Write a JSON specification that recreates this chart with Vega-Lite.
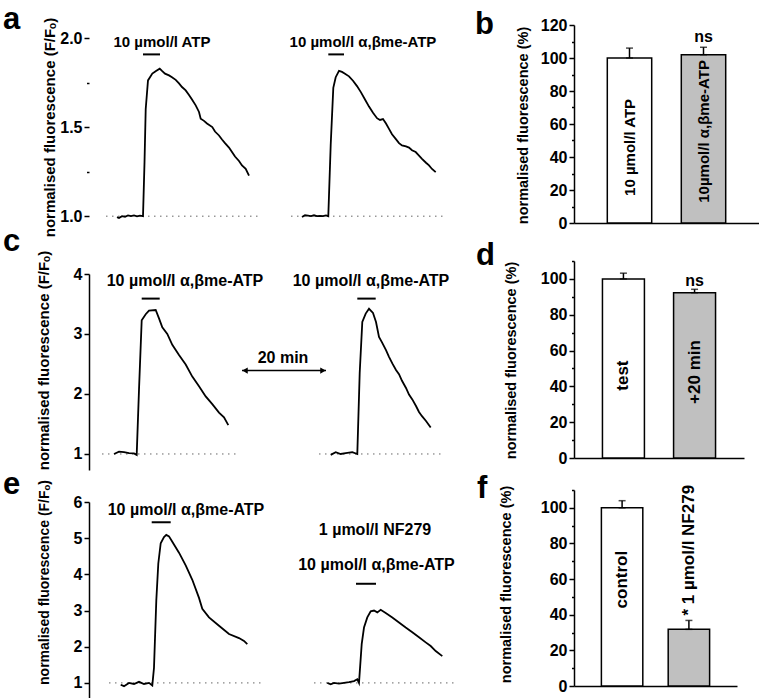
{
  "$schema": "https://vega.github.io/schema/vega-lite/v6.json",
  "padding": {"left": 3, "top": 3, "right": 0, "bottom": 0},
  "bounds": "flush",
  "spacing": 485,
  "config": {
    "view": {"stroke": null},
    "font": "Liberation Sans",
    "axis": {"domainColor": "black", "domainWidth": 1.5, "tickColor": "black", "tickWidth": 1.5, "tickSize": 5,
      "labelFont": "Liberation Sans", "labelFontSize": 16, "labelFontWeight": "bold", "labelColor": "black", "labelPadding": 2,
      "titleFont": "Liberation Sans", "titleFontSize": 15, "titleFontWeight": "bold", "titleColor": "black",
      "grid": false, "labelOverlap": false, "labelFlush": false},
    "text": {"font": "Liberation Sans", "fontWeight": "bold", "fontSize": 16, "color": "black"},
    "title": {"anchor": "start", "frame": "group", "align": "left", "fontSize": 31, "fontWeight": "bold", "font": "Liberation Sans", "color": "black", "offset": 0, "baseline": "alphabetic"}
  },
  "datasets": {
    "a_trace": [
      {"trace":1,"t":28,"v":0.995},{"trace":1,"t":30,"v":0.99},{"trace":1,"t":33,"v":1.0},{"trace":1,"t":36,"v":0.997},{"trace":1,"t":39,"v":1.004},{"trace":1,"t":42,"v":1.0},{"trace":1,"t":45,"v":1.004},{"trace":1,"t":48,"v":0.999},{"trace":1,"t":51,"v":1.003},{"trace":1,"t":54,"v":1.0},{"trace":1,"t":55.5,"v":1.3},{"trace":1,"t":56.7,"v":1.6},{"trace":1,"t":59,"v":1.762},{"trace":1,"t":63.3,"v":1.8},{"trace":1,"t":67,"v":1.815},{"trace":1,"t":70.7,"v":1.828},{"trace":1,"t":73,"v":1.815},{"trace":1,"t":76,"v":1.8},{"trace":1,"t":80,"v":1.79},{"trace":1,"t":83,"v":1.78},{"trace":1,"t":86.7,"v":1.765},{"trace":1,"t":90,"v":1.745},{"trace":1,"t":93,"v":1.725},{"trace":1,"t":96.7,"v":1.706},{"trace":1,"t":100,"v":1.68},{"trace":1,"t":103,"v":1.655},{"trace":1,"t":106.7,"v":1.622},{"trace":1,"t":110,"v":1.585},{"trace":1,"t":111.7,"v":1.547},{"trace":1,"t":115,"v":1.535},{"trace":1,"t":118,"v":1.52},{"trace":1,"t":123.3,"v":1.5},{"trace":1,"t":126,"v":1.475},{"trace":1,"t":130,"v":1.453},{"trace":1,"t":133,"v":1.43},{"trace":1,"t":136,"v":1.41},{"trace":1,"t":140,"v":1.385},{"trace":1,"t":143,"v":1.36},{"trace":1,"t":146,"v":1.335},{"trace":1,"t":150,"v":1.31},{"trace":1,"t":153,"v":1.285},{"trace":1,"t":156.7,"v":1.266},{"trace":1,"t":160,"v":1.228},
      {"trace":2,"t":213,"v":0.995},{"trace":2,"t":216,"v":1.005},{"trace":2,"t":219,"v":1.003},{"trace":2,"t":222,"v":1.0},{"trace":2,"t":225,"v":1.005},{"trace":2,"t":228,"v":1.0},{"trace":2,"t":231,"v":1.002},{"trace":2,"t":234,"v":1.0},{"trace":2,"t":237,"v":1.004},{"trace":2,"t":239.3,"v":1.0},{"trace":2,"t":241.7,"v":1.4},{"trace":2,"t":244.3,"v":1.72},{"trace":2,"t":246.7,"v":1.78},{"trace":2,"t":250,"v":1.816},{"trace":2,"t":253,"v":1.81},{"trace":2,"t":256,"v":1.8},{"trace":2,"t":260,"v":1.785},{"trace":2,"t":264,"v":1.76},{"trace":2,"t":268,"v":1.73},{"trace":2,"t":272,"v":1.695},{"trace":2,"t":276,"v":1.655},{"trace":2,"t":280,"v":1.615},{"trace":2,"t":284,"v":1.58},{"trace":2,"t":288,"v":1.55},{"trace":2,"t":291,"v":1.54},{"trace":2,"t":294,"v":1.545},{"trace":2,"t":297,"v":1.52},{"trace":2,"t":300,"v":1.49},{"trace":2,"t":303,"v":1.46},{"trace":2,"t":306.7,"v":1.434},{"trace":2,"t":310,"v":1.41},{"trace":2,"t":313,"v":1.397},{"trace":2,"t":317,"v":1.392},{"trace":2,"t":320,"v":1.385},{"trace":2,"t":323,"v":1.37},{"trace":2,"t":326.7,"v":1.36},{"trace":2,"t":330,"v":1.34},{"trace":2,"t":333,"v":1.322},{"trace":2,"t":337,"v":1.3},{"trace":2,"t":340,"v":1.285},{"trace":2,"t":343,"v":1.265},{"trace":2,"t":346.7,"v":1.247}
    ],
    "a_base": [{"t":17,"t2":170,"v":1},{"t":202,"t2":357,"v":1}],
    "a_stim": [{"t":54,"t2":71,"v":1.908},{"t":239.3,"t2":255,"v":1.908}],
    "a_text": [{"t":73,"v":1.978,"label":"10 µmol/l ATP"},{"t":274,"v":1.978,"label":"10 µmol/l α,βme-ATP"}],
    "c_trace": [
      {"trace":1,"t":25,"v":1.0},{"trace":1,"t":30,"v":1.04},{"trace":1,"t":35,"v":1.03},{"trace":1,"t":40,"v":1.015},{"trace":1,"t":45,"v":1.01},{"trace":1,"t":47.7,"v":0.985},{"trace":1,"t":50,"v":2.07},{"trace":1,"t":52.7,"v":3.23},{"trace":1,"t":56.7,"v":3.33},{"trace":1,"t":60,"v":3.39},{"trace":1,"t":66.7,"v":3.4},{"trace":1,"t":70,"v":3.26},{"trace":1,"t":73.3,"v":3.11},{"trace":1,"t":78.3,"v":3.0},{"trace":1,"t":83.3,"v":2.82},{"trace":1,"t":90,"v":2.65},{"trace":1,"t":96.7,"v":2.49},{"trace":1,"t":103.3,"v":2.29},{"trace":1,"t":110,"v":2.13},{"trace":1,"t":116.7,"v":1.96},{"trace":1,"t":123.3,"v":1.83},{"trace":1,"t":130,"v":1.69},{"trace":1,"t":135,"v":1.61},{"trace":1,"t":139.3,"v":1.48},
      {"trace":2,"t":241.7,"v":0.985},{"trace":2,"t":246.7,"v":1.03},{"trace":2,"t":251.7,"v":1.0},{"trace":2,"t":256.7,"v":1.015},{"trace":2,"t":263.3,"v":1.03},{"trace":2,"t":268.3,"v":1.0},{"trace":2,"t":270.7,"v":2.35},{"trace":2,"t":273.3,"v":3.2},{"trace":2,"t":276.7,"v":3.34},{"trace":2,"t":280,"v":3.42},{"trace":2,"t":284,"v":3.35},{"trace":2,"t":287,"v":3.2},{"trace":2,"t":290,"v":2.95},{"trace":2,"t":293,"v":2.86},{"trace":2,"t":297,"v":2.73},{"trace":2,"t":300,"v":2.62},{"trace":2,"t":303.3,"v":2.51},{"trace":2,"t":307,"v":2.4},{"trace":2,"t":310,"v":2.33},{"trace":2,"t":313,"v":2.22},{"trace":2,"t":317,"v":2.1},{"trace":2,"t":320,"v":1.99},{"trace":2,"t":323.3,"v":1.91},{"trace":2,"t":327,"v":1.8},{"trace":2,"t":330,"v":1.7},{"trace":2,"t":333,"v":1.63},{"trace":2,"t":337,"v":1.55},{"trace":2,"t":341.7,"v":1.44}
    ],
    "c_base": [{"t":13,"t2":150,"v":1},{"t":230,"t2":352,"v":1}],
    "c_stim": [{"t":52.7,"t2":70.7,"v":3.59},{"t":268.3,"t2":286.7,"v":3.59}],
    "c_arrow": [{"t":153,"t2":237,"v":2.39}],
    "c_heads": [{"t":156,"v":2.39,"dir":"left"},{"t":234,"v":2.39,"dir":"right"}],
    "c_text": [{"t":96,"v":3.89,"label":"10 µmol/l α,βme-ATP"},{"t":282,"v":3.89,"label":"10 µmol/l α,βme-ATP"},{"t":194,"v":2.6,"label":"20 min"}],
    "e_trace": [
      {"trace":1,"t":31.7,"v":0.95},{"trace":1,"t":35,"v":0.91},{"trace":1,"t":40,"v":1.0},{"trace":1,"t":45,"v":0.97},{"trace":1,"t":50,"v":1.03},{"trace":1,"t":55,"v":0.97},{"trace":1,"t":60,"v":1.0},{"trace":1,"t":63.3,"v":0.93},{"trace":1,"t":65,"v":1.42},{"trace":1,"t":67.3,"v":3.28},{"trace":1,"t":69.3,"v":4.3},{"trace":1,"t":71.7,"v":4.86},{"trace":1,"t":75,"v":5.03},{"trace":1,"t":77.3,"v":5.09},{"trace":1,"t":80,"v":5.05},{"trace":1,"t":83.3,"v":4.9},{"trace":1,"t":90,"v":4.6},{"trace":1,"t":96.7,"v":4.25},{"trace":1,"t":103.3,"v":3.85},{"trace":1,"t":110,"v":3.35},{"trace":1,"t":113.3,"v":3.05},{"trace":1,"t":120,"v":2.81},{"trace":1,"t":130,"v":2.58},{"trace":1,"t":140,"v":2.35},{"trace":1,"t":150,"v":2.24},{"trace":1,"t":155,"v":2.16},{"trace":1,"t":158.3,"v":2.07},
      {"trace":2,"t":238.3,"v":1.0},{"trace":2,"t":241.7,"v":0.96},{"trace":2,"t":245,"v":1.0},{"trace":2,"t":250,"v":0.98},{"trace":2,"t":255,"v":1.0},{"trace":2,"t":260,"v":1.02},{"trace":2,"t":265,"v":1.05},{"trace":2,"t":268.3,"v":1.1},{"trace":2,"t":270,"v":1.0},{"trace":2,"t":272.7,"v":2.07},{"trace":2,"t":275,"v":2.53},{"trace":2,"t":278.3,"v":2.81},{"trace":2,"t":281.7,"v":2.98},{"trace":2,"t":285,"v":3.0},{"trace":2,"t":288.3,"v":2.95},{"trace":2,"t":291.7,"v":3.02},{"trace":2,"t":296.7,"v":2.93},{"trace":2,"t":303.3,"v":2.81},{"trace":2,"t":310,"v":2.67},{"trace":2,"t":316.7,"v":2.53},{"trace":2,"t":323.3,"v":2.4},{"trace":2,"t":330,"v":2.26},{"trace":2,"t":336.7,"v":2.12},{"trace":2,"t":341.7,"v":2.02},{"trace":2,"t":346.7,"v":1.88},{"trace":2,"t":353.3,"v":1.74}
    ],
    "e_base": [{"t":20,"t2":172,"v":1},{"t":225,"t2":368,"v":1}],
    "e_stim": [{"t":62.7,"t2":81.7,"v":5.44},{"t":267,"t2":287,"v":3.74}],
    "e_text": [{"t":97,"v":5.79,"label":"10 µmol/l α,βme-ATP"},{"t":286,"v":5.23,"label":"1 µmol/l NF279"},{"t":287.5,"v":4.26,"label":"10 µmol/l α,βme-ATP"}],
    "b_bars": [{"group":"10 µmol/l ATP","mean":100,"upper":106},{"group":"10µmol/l α,βme-ATP","mean":102,"upper":106.5}],
    "b_text": [{"group":"10 µmol/l ATP","v":45.8,"label":"10 µmol/l ATP","kind":"in"},{"group":"10µmol/l α,βme-ATP","v":55.5,"label":"10µmol/l α,βme-ATP","kind":"in"},{"group":"10µmol/l α,βme-ATP","v":112.7,"label":"ns","kind":"ns"}],
    "d_bars": [{"group":"test","mean":100,"upper":103.2},{"group":"+20 min","mean":92.3,"upper":94.2}],
    "d_text": [{"group":"test","v":46,"label":"test","kind":"in"},{"group":"+20 min","v":48,"label":"+20 min","kind":"in"},{"group":"+20 min","v":99,"label":"ns","kind":"ns"}],
    "f_bars": [{"group":"control","mean":100,"upper":104},{"group":"1 µmol/l NF279","mean":31.8,"upper":36.8}],
    "f_text": [{"group":"control","v":59.7,"label":"control","kind":"in"},{"group":"1 µmol/l NF279","v":39.5,"label":"* 1 µmol/l NF279","kind":"up"}]
  },
  "hconcat": [
    {"bounds": "flush", "spacing": 40, "vconcat": [
      {
        "width": 390, "height": 209,
        "title": {"text": "a", "dx": -86, "dy": 22.5},
        "encoding": {
          "x": {"field": "t", "type": "quantitative", "scale": {"domain": [0, 390], "nice": false, "zero": false}, "axis": null},
          "y": {"field": "v", "type": "quantitative", "scale": {"domain": [0.9, 2.073], "nice": false, "zero": false},
            "axis": {"title": "normalised fluorescence (F/Fₒ)", "domain": false, "values": [1, 1.25, 1.5, 1.75, 2], "format": ".1f", "labelOverlap": false,
              "labelExpr": "abs(datum.value*2-round(datum.value*2))<0.001 ? datum.label : ''",
              "tickSize": {"condition": {"test": "abs(datum.value*2-round(datum.value*2))>0.001", "value": 2.5}, "value": 5},
              "titlePadding": 2, "titleY": 102}}
        },
        "layer": [
          {"data": {"name": "a_base"}, "mark": {"type": "rule", "color": "#666666", "strokeWidth": 1, "strokeDash": [1.5, 4.5]}, "encoding": {"x2": {"field": "t2"}}},
          {"data": {"name": "a_trace"}, "mark": {"type": "line", "color": "black", "strokeWidth": 1.8}, "encoding": {"detail": {"field": "trace", "type": "nominal"}}},
          {"data": {"name": "a_stim"}, "mark": {"type": "rule", "color": "black", "strokeWidth": 2}, "encoding": {"x2": {"field": "t2"}}},
          {"data": {"name": "a_text"}, "mark": {"type": "text", "fontSize": 15}, "encoding": {"text": {"field": "label"}}},
          {"data": {"values": [{}]}, "mark": {"type": "rule", "color": "black", "strokeWidth": 1.5}, "encoding": {"x": {"datum": 0}, "y": {"datum": 0.9}, "y2": {"datum": 2.0}}}
        ]
      },
      {"bounds": "flush", "spacing": 32, "vconcat": [
        {
          "width": 390, "height": 196,
          "title": {"text": "c", "dx": -86, "dy": 11.5},
          "encoding": {
            "x": {"field": "t", "type": "quantitative", "scale": {"domain": [0, 390], "nice": false, "zero": false}, "axis": null},
            "y": {"field": "v", "type": "quantitative", "scale": {"domain": [0.733, 4], "nice": false, "zero": false},
              "axis": {"title": "normalised fluorescence (F/Fₒ)", "values": [1, 1.5, 2, 2.5, 3, 3.5, 4], "format": "d", "labelOverlap": false,
                "labelExpr": "abs(datum.value-round(datum.value))<0.001 ? datum.label : ''",
                "tickSize": {"condition": {"test": "abs(datum.value-round(datum.value))>0.001", "value": 2.5}, "value": 5},
                "titlePadding": 22, "titleY": 86}}
          },
          "layer": [
            {"data": {"name": "c_base"}, "mark": {"type": "rule", "color": "#666666", "strokeWidth": 1, "strokeDash": [1.5, 4.5]}, "encoding": {"x2": {"field": "t2"}}},
            {"data": {"name": "c_trace"}, "mark": {"type": "line", "color": "black", "strokeWidth": 1.8}, "encoding": {"detail": {"field": "trace", "type": "nominal"}}},
            {"data": {"name": "c_stim"}, "mark": {"type": "rule", "color": "black", "strokeWidth": 2}, "encoding": {"x2": {"field": "t2"}}},
            {"data": {"name": "c_arrow"}, "mark": {"type": "rule", "color": "black", "strokeWidth": 1.5}, "encoding": {"x2": {"field": "t2"}}},
            {"data": {"name": "c_heads"}, "mark": {"type": "point", "filled": true, "color": "black", "opacity": 1, "size": 40}, "encoding": {"shape": {"field": "dir", "type": "nominal", "scale": {"domain": ["left", "right"], "range": ["triangle-left", "triangle-right"]}, "legend": null}}},
            {"data": {"name": "c_text"}, "mark": {"type": "text", "fontSize": 16}, "encoding": {"text": {"field": "label"}}}
          ]
        },
        {
          "width": 390, "height": 199,
          "title": {"text": "e", "dx": -86, "dy": 25.5},
          "encoding": {
            "x": {"field": "t", "type": "quantitative", "scale": {"domain": [0, 390], "nice": false, "zero": false}, "axis": null},
            "y": {"field": "v", "type": "quantitative", "scale": {"domain": [0.5, 6], "nice": false, "zero": false},
              "axis": {"title": "normalised fluorescence (F/Fₒ)", "titleFontSize": 14, "values": [1, 1.5, 2, 2.5, 3, 3.5, 4, 4.5, 5, 5.5, 6], "format": "d", "labelOverlap": false,
                "labelExpr": "abs(datum.value-round(datum.value))<0.001 ? datum.label : ''",
                "tickSize": {"condition": {"test": "abs(datum.value-round(datum.value))>0.001", "value": 2.5}, "value": 5},
                "titlePadding": 22, "titleY": 80}}
          },
          "layer": [
            {"data": {"name": "e_base"}, "mark": {"type": "rule", "color": "#666666", "strokeWidth": 1, "strokeDash": [1.5, 4.5]}, "encoding": {"x2": {"field": "t2"}}},
            {"data": {"name": "e_trace"}, "mark": {"type": "line", "color": "black", "strokeWidth": 1.8}, "encoding": {"detail": {"field": "trace", "type": "nominal"}}},
            {"data": {"name": "e_stim"}, "mark": {"type": "rule", "color": "black", "strokeWidth": 2}, "encoding": {"x2": {"field": "t2"}}},
            {"data": {"name": "e_text"}, "mark": {"type": "text", "fontSize": 16}, "encoding": {"text": {"field": "label"}}}
          ]
        }
      ]}
    ]},
    {"bounds": "flush", "spacing": 38, "vconcat": [
      {
        "width": 185, "height": 198,
        "title": {"text": "b", "dx": -99, "dy": 27.5},
        "encoding": {
          "x": {"field": "group", "type": "nominal", "sort": null, "scale": {"domain": ["10 µmol/l ATP", "10µmol/l α,βme-ATP"], "paddingInner": 0.4, "paddingOuter": 0.45}, "axis": {"title": null, "labels": false, "ticks": false}},
          "y": {"field": "mean", "type": "quantitative", "scale": {"domain": [0, 120], "nice": false},
            "axis": {"title": "normalised fluorescence (%)", "titleFontSize": 14.5, "values": [0,10,20,30,40,50,60,70,80,90,100,110,120], "labelOverlap": false,
              "labelExpr": "datum.value % 20 === 0 ? datum.label : ''",
              "tickSize": {"condition": {"test": "datum.value % 20 !== 0", "value": 2.5}, "value": 5},
              "titlePadding": 10, "titleY": 100}}
        },
        "layer": [
          {"data": {"name": "b_bars"}, "mark": {"type": "bar", "stroke": "black", "strokeWidth": 1.5},
            "encoding": {
              "fill": {"field": "group", "type": "nominal", "scale": {"domain": ["10 µmol/l ATP", "10µmol/l α,βme-ATP"], "range": ["#ffffff", "#c0c0c0"]}, "legend": null}
            }},
          {"data": {"name": "b_bars"}, "mark": {"type": "errorbar", "color": "black", "ticks": {"size": 7, "thickness": 1.5}, "rule": {"strokeWidth": 1.5}}, "encoding": {"y2": {"field": "upper"}}},
          {"data": {"name": "b_text"}, "transform": [{"filter": "datum.kind === 'in'"}], "mark": {"type": "text", "angle": 270, "fontSize": 15}, "encoding": {"y": {"field": "v", "type": "quantitative", "axis": {"title": "normalised fluorescence (%)", "titleFontSize": 14.5, "values": [0,10,20,30,40,50,60,70,80,90,100,110,120], "labelOverlap": false, "labelExpr": "datum.value % 20 === 0 ? datum.label : ''", "tickSize": {"condition": {"test": "datum.value % 20 !== 0", "value": 2.5}, "value": 5}, "titlePadding": 10, "titleY": 100}}, "text": {"field": "label"}}},
          {"data": {"name": "b_text"}, "transform": [{"filter": "datum.kind === 'ns'"}], "mark": {"type": "text", "fontSize": 16}, "encoding": {"y": {"field": "v", "type": "quantitative", "axis": {"title": "normalised fluorescence (%)", "titleFontSize": 14.5, "values": [0,10,20,30,40,50,60,70,80,90,100,110,120], "labelOverlap": false, "labelExpr": "datum.value % 20 === 0 ? datum.label : ''", "tickSize": {"condition": {"test": "datum.value % 20 !== 0", "value": 2.5}, "value": 5}, "titlePadding": 10, "titleY": 100}}, "text": {"field": "label"}}}
        ]
      },
      {"bounds": "flush", "spacing": 32, "vconcat": [
        {
          "width": 170, "height": 197,
          "title": {"text": "d", "dx": -98, "dy": 23},
          "encoding": {
            "x": {"field": "group", "type": "nominal", "sort": null, "scale": {"domain": ["test", "+20 min"], "paddingInner": 0.41, "paddingOuter": 0.4}, "axis": {"title": null, "labels": false, "ticks": false}},
            "y": {"field": "mean", "type": "quantitative", "scale": {"domain": [0, 110], "nice": false},
              "axis": {"title": "normalised fluorescence (%)", "titleFontSize": 14.5, "values": [0,10,20,30,40,50,60,70,80,90,100,110], "labelOverlap": false,
                "labelExpr": "datum.value % 20 === 0 ? datum.label : ''",
                "tickSize": {"condition": {"test": "datum.value % 20 !== 0", "value": 2.5}, "value": 5},
                "titlePadding": 22, "titleY": 99}}
          },
          "layer": [
            {"data": {"name": "d_bars"}, "mark": {"type": "bar", "stroke": "black", "strokeWidth": 1.5},
              "encoding": {
                "fill": {"field": "group", "type": "nominal", "scale": {"domain": ["test", "+20 min"], "range": ["#ffffff", "#c0c0c0"]}, "legend": null}
              }},
            {"data": {"name": "d_bars"}, "mark": {"type": "errorbar", "color": "black", "ticks": {"size": 7, "thickness": 1.5}, "rule": {"strokeWidth": 1.5}}, "encoding": {"y2": {"field": "upper"}}},
            {"data": {"name": "d_text"}, "transform": [{"filter": "datum.kind === 'in'"}], "mark": {"type": "text", "angle": 270, "fontSize": 17}, "encoding": {"y": {"field": "v", "type": "quantitative", "axis": {"title": "normalised fluorescence (%)", "titleFontSize": 14.5, "values": [0,10,20,30,40,50,60,70,80,90,100,110], "labelOverlap": false, "labelExpr": "datum.value % 20 === 0 ? datum.label : ''", "tickSize": {"condition": {"test": "datum.value % 20 !== 0", "value": 2.5}, "value": 5}, "titlePadding": 22, "titleY": 99}}, "text": {"field": "label"}}},
            {"data": {"name": "d_text"}, "transform": [{"filter": "datum.kind === 'ns'"}], "mark": {"type": "text", "fontSize": 16}, "encoding": {"y": {"field": "v", "type": "quantitative", "axis": {"title": "normalised fluorescence (%)", "titleFontSize": 14.5, "values": [0,10,20,30,40,50,60,70,80,90,100,110], "labelOverlap": false, "labelExpr": "datum.value % 20 === 0 ? datum.label : ''", "tickSize": {"condition": {"test": "datum.value % 20 !== 0", "value": 2.5}, "value": 5}, "titlePadding": 22, "titleY": 99}}, "text": {"field": "label"}}}
          ]
        },
        {
          "width": 163, "height": 196,
          "title": {"text": "f", "dx": -97, "dy": 27},
          "encoding": {
            "x": {"field": "group", "type": "nominal", "sort": null, "scale": {"domain": ["control", "1 µmol/l NF279"], "paddingInner": 0.38, "paddingOuter": 0.41}, "axis": {"title": null, "labels": false, "ticks": false}},
            "y": {"field": "mean", "type": "quantitative", "scale": {"domain": [0, 110], "nice": false},
              "axis": {"title": "normalised fluorescence (%)", "titleFontSize": 14.5, "values": [0,10,20,30,40,50,60,70,80,90,100,110], "labelOverlap": false,
                "labelExpr": "datum.value % 20 === 0 ? datum.label : ''",
                "tickSize": {"condition": {"test": "datum.value % 20 !== 0", "value": 2.5}, "value": 5},
                "titlePadding": 27, "titleY": 94}}
          },
          "layer": [
            {"data": {"name": "f_bars"}, "mark": {"type": "bar", "stroke": "black", "strokeWidth": 1.5},
              "encoding": {
                "fill": {"field": "group", "type": "nominal", "scale": {"domain": ["control", "1 µmol/l NF279"], "range": ["#ffffff", "#c0c0c0"]}, "legend": null}
              }},
            {"data": {"name": "f_bars"}, "mark": {"type": "errorbar", "color": "black", "ticks": {"size": 7, "thickness": 1.5}, "rule": {"strokeWidth": 1.5}}, "encoding": {"y2": {"field": "upper"}}},
            {"data": {"name": "f_text"}, "transform": [{"filter": "datum.kind === 'in'"}], "mark": {"type": "text", "angle": 270, "fontSize": 17}, "encoding": {"y": {"field": "v", "type": "quantitative", "axis": {"title": "normalised fluorescence (%)", "titleFontSize": 14.5, "values": [0,10,20,30,40,50,60,70,80,90,100,110], "labelOverlap": false, "labelExpr": "datum.value % 20 === 0 ? datum.label : ''", "tickSize": {"condition": {"test": "datum.value % 20 !== 0", "value": 2.5}, "value": 5}, "titlePadding": 27, "titleY": 94}}, "text": {"field": "label"}}},
            {"data": {"name": "f_text"}, "transform": [{"filter": "datum.kind === 'up'"}], "mark": {"type": "text", "angle": 270, "align": "left", "fontSize": 17}, "encoding": {"y": {"field": "v", "type": "quantitative", "axis": {"title": "normalised fluorescence (%)", "titleFontSize": 14.5, "values": [0,10,20,30,40,50,60,70,80,90,100,110], "labelOverlap": false, "labelExpr": "datum.value % 20 === 0 ? datum.label : ''", "tickSize": {"condition": {"test": "datum.value % 20 !== 0", "value": 2.5}, "value": 5}, "titlePadding": 27, "titleY": 94}}, "text": {"field": "label"}}}
          ]
        }
      ]}
    ]}
  ]
}
